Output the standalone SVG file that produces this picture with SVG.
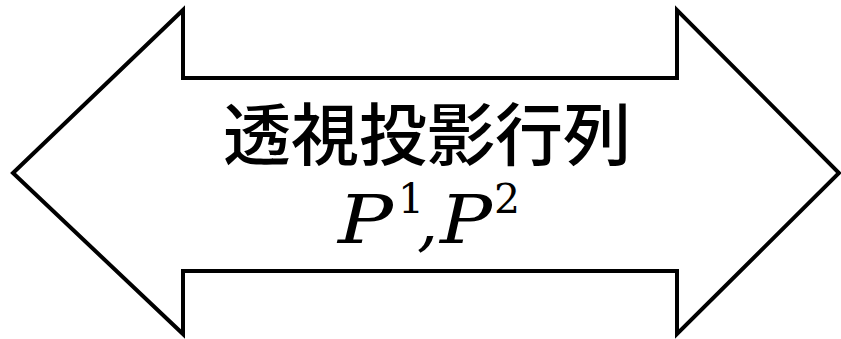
<svg xmlns="http://www.w3.org/2000/svg" width="841" height="339" viewBox="0 0 841 339">
<style>
.shape{fill:#fff;stroke:#000;stroke-width:4;stroke-linejoin:miter}
.cjk{font-family:"Noto Sans CJK JP","Noto Sans CJK SC",sans-serif;font-size:68px;font-weight:500;fill:#000}
.math{font-family:"DejaVu Serif",serif;font-style:italic;font-size:67px;fill:#000}
.sup{font-style:normal;font-size:41px}
</style>
<rect width="841" height="339" fill="#fff"/>
<g id="double-arrow">
<path class="shape" d="M13,173 L183,10 L183,78 L677,78 L677,10 L839,173 L677,334 L677,271 L183,271 L183,334 Z"/>
<text class="cjk" x="427" y="160" text-anchor="middle">透視投影行列</text>
<text class="math" y="243"><tspan x="338" textLength="55" lengthAdjust="spacingAndGlyphs">P</tspan><tspan class="sup" x="398" y="213">1</tspan><tspan x="417" y="243">,</tspan><tspan x="440" y="243" textLength="52" lengthAdjust="spacingAndGlyphs">P</tspan><tspan class="sup" x="494" y="213">2</tspan></text>
</g>
</svg>
